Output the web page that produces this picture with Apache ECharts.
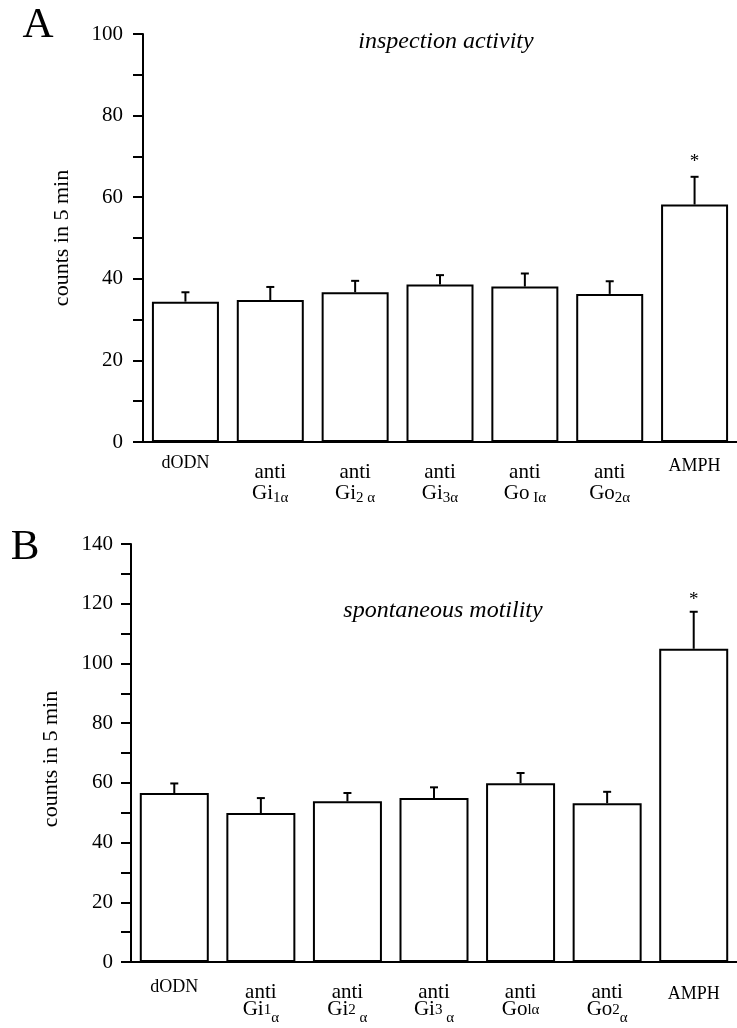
<!DOCTYPE html>
<html>
<head>
<meta charset="utf-8">
<script src="https://cdn.jsdelivr.net/npm/echarts@6/dist/echarts.min.js"></script>
<style>
html, body { margin: 0; padding: 0; background: #fff; }
#chart { width: 737px; height: 1028px; }
</style>
</head>
<body>
<div id="chart"></div>
<script>
var FONT = 'Liberation Serif';

// panel A: inspection activity
var catsA = ['dODN', 'anti Gi1α', 'anti Gi2α', 'anti Gi3α', 'anti Go1α', 'anti Go2α', 'AMPH'];
var labelsA = [
	'{n|dODN}',
	'{a|anti}\n{g|Gi}{s|1α}',
	'{a|anti}\n{g|Gi}{s|2 α}',
	'{a|anti}\n{g|Gi}{s|3α}',
	'{a|anti}\n{g|Go}{s| Iα}',
	'{a|anti}\n{g|Go}{s|2α}',
	'{m|AMPH}'
];
var meansA = [34.4, 34.8, 36.7, 38.6, 38.1, 36.3, 58.2];
var errA = [2.3, 3.2, 2.8, 2.3, 3.2, 3.1, 6.8];
var marksA = ['', '', '', '', '', '', '*'];

// panel B: spontaneous motility
var catsB = ['dODN', 'anti Gi1α', 'anti Gi2α', 'anti Gi3α', 'anti Go1α', 'anti Go2α', 'AMPH'];
var labelsB = [
	'{n|dODN}',
	'{a|anti}\n{g|Gi}{s|1}{t|α}',
	'{a|anti}\n{g|Gi}{s|2}{t| α}',
	'{a|anti}\n{g|Gi}{s|3}{t| α}',
	'{a|anti}\n{g|Go}{s|lα}',
	'{a|anti}\n{g|Go}{s|2}{t|α}',
	'{m|AMPH}'
];
var meansB = [56.6, 49.9, 53.8, 54.9, 59.9, 53.2, 104.9];
var errB = [3.2, 5.0, 2.8, 3.6, 3.4, 3.8, 12.4];
var marksB = ['', '', '', '', '', '', '*'];

var myChart = echarts.init(document.getElementById('chart'));

function errorSeries(axisIdx, means, errs, marks, starGap) {
	return {
		type: 'custom',
		xAxisIndex: axisIdx,
		yAxisIndex: axisIdx,
		z: 5,
		data: means.map(function(m, i) { return [i, m, errs[i]]; }),
		renderItem: function(params, api) {
			var i = api.value(0);
			var base = api.coord([i, api.value(1)]);
			var top = api.coord([i, api.value(1) + api.value(2)]);
			var kids = [{
				type: 'line',
				shape: { x1: base[0], y1: base[1], x2: top[0], y2: top[1] },
				style: { stroke: '#000', lineWidth: 2 }
			}, {
				type: 'line',
				shape: { x1: top[0] - 4, y1: top[1], x2: top[0] + 4, y2: top[1] },
				style: { stroke: '#000', lineWidth: 2 }
			}];
			var mk = marks[params.dataIndex];
			if(mk) {
				kids.push({
					type: 'text',
					style: {
						text: mk, x: top[0], y: top[1] - starGap,
						font: '19px "' + FONT + '"', fill: '#000',
						align: 'center', verticalAlign: 'middle'
					}
				});
			}
			return { type: 'group', children: kids };
		}
	};
}

function yAxisOf(gridIdx, max, gap, margin, namePad) {
	return {
		type: 'value',
		gridIndex: gridIdx,
		min: 0,
		max: max,
		interval: 10,
		name: 'counts in 5 min',
		nameLocation: 'middle',
		nameGap: gap,
		nameTextStyle: { fontFamily: FONT, fontSize: 22, color: '#000', padding: namePad },
		splitLine: { show: false },
		axisLine: { show: true, lineStyle: { color: '#000', width: 2 } },
		axisTick: { show: true, length: 10, lineStyle: { color: '#000', width: 2 } },
		axisLabel: {
			margin: margin,
			fontFamily: FONT,
			fontSize: 21,
			color: '#000',
			formatter: function(v) { return v % 20 === 0 ? v : ''; }
		}
	};
}

var option = {
	backgroundColor: '#fff',
	animation: false,
	title: [{
		text: 'inspection activity',
		left: 446, top: 30, textAlign: 'center', padding: 0,
		textStyle: { fontFamily: FONT, fontStyle: 'italic', fontWeight: 'normal', fontSize: 24, color: '#000' }
	}, {
		text: 'spontaneous motility',
		left: 443, top: 599, textAlign: 'center', padding: 0,
		textStyle: { fontFamily: FONT, fontStyle: 'italic', fontWeight: 'normal', fontSize: 24, color: '#000' }
	}],
	graphic: [{
		type: 'text', x: 38, y: 26,
		style: { text: 'A', font: '43px "' + FONT + '"', fill: '#000', align: 'center', verticalAlign: 'middle' }
	}, {
		type: 'text', x: 25, y: 548,
		style: { text: 'B', font: '43px "' + FONT + '"', fill: '#000', align: 'center', verticalAlign: 'middle' }
	}],
	grid: [
		{ left: 143, top: 34, width: 597, height: 408 },
		{ left: 131, top: 544, width: 620, height: 418 }
	],
	xAxis: [{
		type: 'category',
		gridIndex: 0,
		data: catsA,
		axisLine: { lineStyle: { color: '#000', width: 2 } },
		axisTick: { show: false },
		axisLabel: {
			interval: 0,
			margin: 12,
			color: '#000',
			fontFamily: FONT,
			formatter: function(v, i) { return labelsA[i]; },
			rich: {
				n: { fontFamily: FONT, fontSize: 18, lineHeight: 20, verticalAlign: 'top' },
				m: { fontFamily: FONT, fontSize: 18, lineHeight: 23, verticalAlign: 'top', padding: [3, 0, 0, 0] },
				a: { fontFamily: FONT, fontSize: 21, lineHeight: 29, verticalAlign: 'top', padding: [8, 0, 0, 0] },
				g: { fontFamily: FONT, fontSize: 21, lineHeight: 21, verticalAlign: 'top' },
				s: { fontFamily: FONT, fontSize: 15, lineHeight: 21, verticalAlign: 'top', padding: [8, 0, 0, 0] }
			}
		}
	}, {
		type: 'category',
		gridIndex: 1,
		data: catsB,
		axisLine: { lineStyle: { color: '#000', width: 2 } },
		axisTick: { show: false },
		axisLabel: {
			interval: 0,
			margin: 16,
			color: '#000',
			fontFamily: FONT,
			formatter: function(v, i) { return labelsB[i]; },
			rich: {
				n: { fontFamily: FONT, fontSize: 18, lineHeight: 17, verticalAlign: 'top' },
				m: { fontFamily: FONT, fontSize: 18, lineHeight: 24, verticalAlign: 'top', padding: [7, 0, 0, 0] },
				a: { fontFamily: FONT, fontSize: 21, lineHeight: 21, verticalAlign: 'top', padding: [4, 0, 0, 0] },
				g: { fontFamily: FONT, fontSize: 21, lineHeight: 17, verticalAlign: 'top' },
				s: { fontFamily: FONT, fontSize: 15, lineHeight: 17, verticalAlign: 'top', padding: [4, 0, 0, 0] },
				t: { fontFamily: FONT, fontSize: 15, lineHeight: 17, verticalAlign: 'top', padding: [12, 0, 0, 0] }
			}
		}
	}],
	yAxis: [
		yAxisOf(0, 100, 70, 20, 0),
		yAxisOf(1, 140, 69, 18, [0, 12, 0, 0])
	],
	series: [{
		type: 'bar',
		xAxisIndex: 0,
		yAxisIndex: 0,
		barWidth: 67,
		data: meansA,
		itemStyle: { color: '#fff', borderColor: '#000', borderWidth: 2 }
	},
	errorSeries(0, meansA, errA, marksA, 15),
	{
		type: 'bar',
		xAxisIndex: 1,
		yAxisIndex: 1,
		barWidth: 69,
		data: meansB,
		itemStyle: { color: '#fff', borderColor: '#000', borderWidth: 2 }
	},
	errorSeries(1, meansB, errB, marksB, 12)]
};
myChart.setOption(option);
</script>
</body>
</html>
